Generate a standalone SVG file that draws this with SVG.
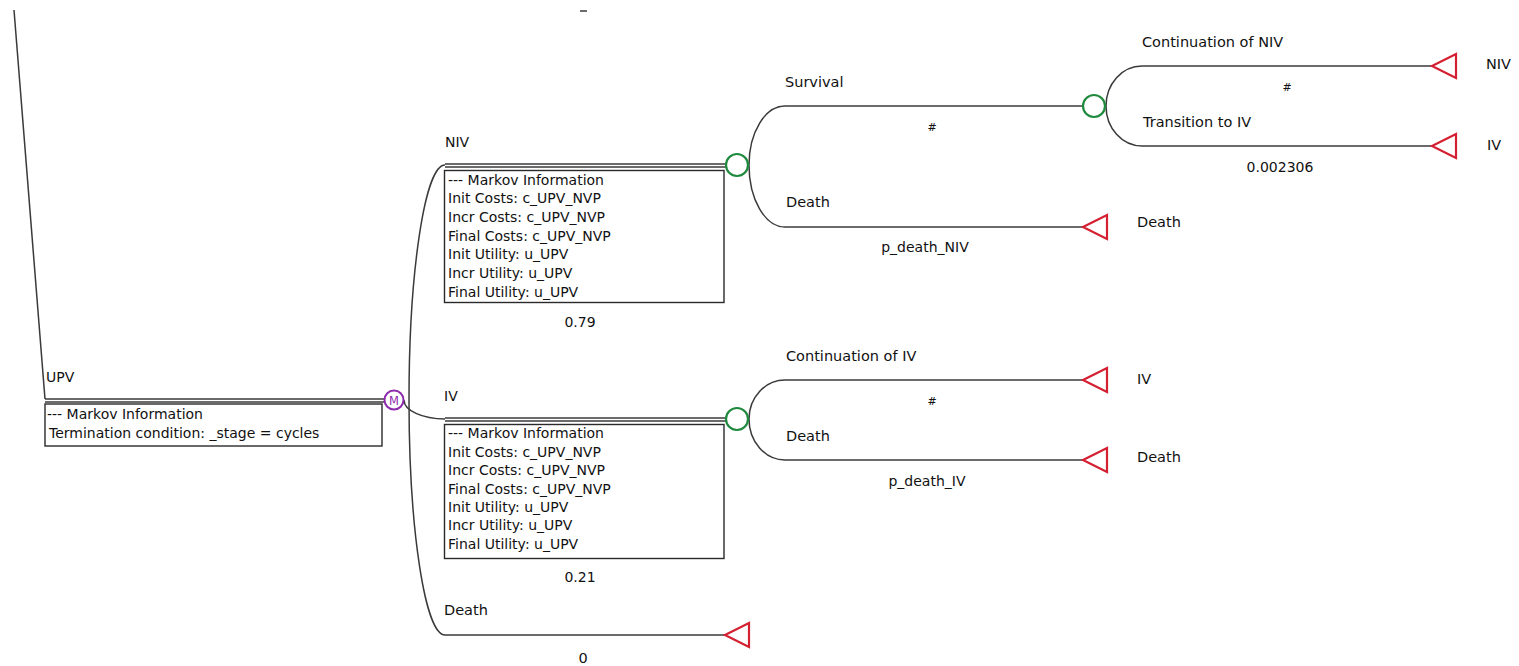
<svg xmlns="http://www.w3.org/2000/svg" width="1519" height="666" viewBox="0 0 1519 666">
<style>
  text { font-family: "DejaVu Sans", "Noto Sans", sans-serif; fill: #111; font-size: 14.5px; }
  .box text { font-size: 14px; }
  text.pr { font-size: 14px; }
  .sm { font-size: 11px; }
  .mid { text-anchor: middle; }
  .ln { stroke: #3a3a3a; stroke-width: 1.5; fill: none; }
  .dbl { stroke: #3a3a3a; stroke-width: 1.3; fill: none; }
  .boxr { stroke: #2a2a2a; stroke-width: 1.4; fill: #fff; }
  .chance { stroke: #1f8a3e; stroke-width: 2.2; fill: #fff; }
  .markov { stroke: #8e2bad; stroke-width: 2; fill: #fff; }
  .term { stroke: #d42030; stroke-width: 2.2; fill: #fff; stroke-linejoin: miter; }
</style>
<rect width="1519" height="666" fill="#fff"/>

<g id="connectors">
  <line class="ln" x1="14" y1="10" x2="45" y2="399"/>
  <line class="ln" x1="580" y1="11" x2="587" y2="11"/>
  <line class="dbl" x1="45" y1="399" x2="384" y2="399"/>
  <line class="dbl" x1="45" y1="402" x2="384" y2="402"/>
  <path class="ln" d="M 409 400 A 36 235 0 0 1 445 165"/>
  <path class="ln" d="M 404 400 A 41 19 0 0 0 445 419"/>
  <path class="ln" d="M 409 400 A 36 235 0 0 0 445 635"/>
  <line class="dbl" x1="445" y1="164" x2="726" y2="164"/>
  <line class="dbl" x1="445" y1="167" x2="726" y2="167"/>
  <line class="dbl" x1="445" y1="418" x2="726" y2="418"/>
  <line class="dbl" x1="445" y1="421" x2="726" y2="421"/>
  <line class="ln" x1="445" y1="635" x2="725" y2="635"/>
  <path class="ln" d="M 749 165 A 36 59 0 0 1 785 106"/>
  <path class="ln" d="M 749 165 A 36 62 0 0 0 785 227"/>
  <line class="ln" x1="785" y1="106" x2="1083" y2="106"/>
  <line class="ln" x1="785" y1="227" x2="1083" y2="227"/>
  <path class="ln" d="M 1106 106 A 36 40 0 0 1 1142 66"/>
  <path class="ln" d="M 1106 106 A 36 40 0 0 0 1142 146"/>
  <line class="ln" x1="1142" y1="66" x2="1432" y2="66"/>
  <line class="ln" x1="1142" y1="146" x2="1432" y2="146"/>
  <path class="ln" d="M 749 419 A 36 39 0 0 1 785 380"/>
  <path class="ln" d="M 749 419 A 36 41 0 0 0 785 460"/>
  <line class="ln" x1="785" y1="380" x2="1083" y2="380"/>
  <line class="ln" x1="785" y1="460" x2="1083" y2="460"/>
</g>

<g id="node-upv" class="box">
  <text x="46" y="382">UPV</text>
  <rect class="boxr" x="45" y="404" width="337" height="42"/>
  <text x="47" y="418.5">--- Markov Information</text>
  <text x="49" y="437.5">Termination condition: _stage = cycles</text>
</g>

<g id="node-markov">
  <circle class="markov" cx="394" cy="400" r="9.5"/>
  <text x="394" y="404.5" class="mid" style="font-size:11.5px;fill:#8e2bad">M</text>
</g>

<g id="node-niv" class="box">
  <text x="445" y="147">NIV</text>
  <rect class="boxr" x="444.5" y="170.5" width="279.5" height="132"/>
  <text x="448" y="184.5">--- Markov Information</text>
  <text x="448" y="203">Init Costs: c_UPV_NVP</text>
  <text x="448" y="221.5">Incr Costs: c_UPV_NVP</text>
  <text x="448" y="240.5">Final Costs: c_UPV_NVP</text>
  <text x="448" y="259">Init Utility: u_UPV</text>
  <text x="448" y="277.5">Incr Utility: u_UPV</text>
  <text x="448" y="296.5">Final Utility: u_UPV</text>
  <text x="580" y="326.5" class="mid">0.79</text>
  <circle class="chance" cx="737" cy="165" r="11"/>
</g>

<g id="node-survival">
  <text x="785" y="86.5">Survival</text>
  <text x="932" y="131" class="mid sm">#</text>
  <circle class="chance" cx="1094" cy="106" r="11"/>
</g>

<g id="node-cont-niv">
  <text x="1142" y="46.5">Continuation of NIV</text>
  <text x="1287" y="91" class="mid sm">#</text>
  <polygon class="term" points="1432,66 1456,54 1456,78"/>
  <text x="1486" y="68.5">NIV</text>
</g>

<g id="node-trans-iv">
  <text x="1143" y="126.5">Transition to IV</text>
  <text x="1280" y="171.5" class="mid pr">0.002306</text>
  <polygon class="term" points="1432,146 1456,134 1456,158"/>
  <text x="1487" y="149.5">IV</text>
</g>

<g id="node-niv-death">
  <text x="786" y="206.5">Death</text>
  <text x="925" y="252" class="mid pr">p_death_NIV</text>
  <polygon class="term" points="1083,227 1107,215 1107,239"/>
  <text x="1137" y="226.5">Death</text>
</g>

<g id="node-iv" class="box">
  <text x="444" y="400.5">IV</text>
  <rect class="boxr" x="444.5" y="424.5" width="279.5" height="134"/>
  <text x="448" y="438">--- Markov Information</text>
  <text x="448" y="457">Init Costs: c_UPV_NVP</text>
  <text x="448" y="475">Incr Costs: c_UPV_NVP</text>
  <text x="448" y="493.5">Final Costs: c_UPV_NVP</text>
  <text x="448" y="511.5">Init Utility: u_UPV</text>
  <text x="448" y="530">Incr Utility: u_UPV</text>
  <text x="448" y="549">Final Utility: u_UPV</text>
  <text x="580" y="581.5" class="mid">0.21</text>
  <circle class="chance" cx="737" cy="419" r="11"/>
</g>

<g id="node-cont-iv">
  <text x="786" y="360.5">Continuation of IV</text>
  <text x="932" y="405" class="mid sm">#</text>
  <polygon class="term" points="1083,380 1107,368 1107,392"/>
  <text x="1137" y="383.5">IV</text>
</g>

<g id="node-iv-death">
  <text x="786" y="440.5">Death</text>
  <text x="927" y="486" class="mid pr">p_death_IV</text>
  <polygon class="term" points="1083,460 1107,448 1107,472"/>
  <text x="1137" y="461.5">Death</text>
</g>

<g id="node-death">
  <text x="444" y="614.5">Death</text>
  <polygon class="term" points="725,635 749,623 749,647"/>
  <text x="583" y="662.5" class="mid">0</text>
</g>
</svg>
